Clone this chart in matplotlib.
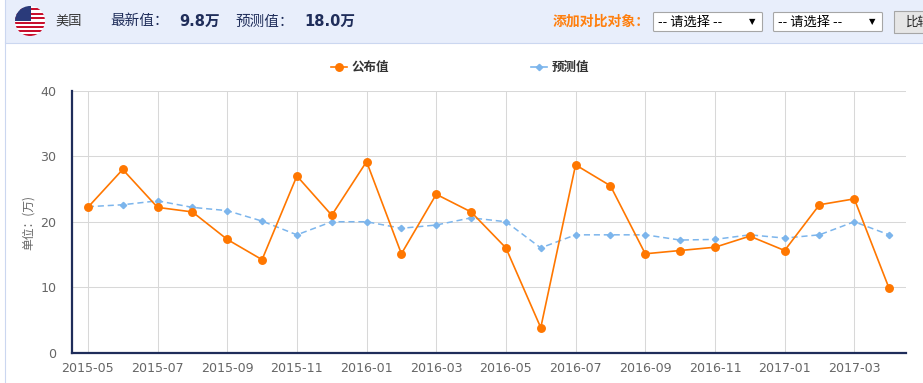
import matplotlib
matplotlib.use("Agg")
import matplotlib.pyplot as plt
from matplotlib.patches import Rectangle, Circle, FancyBboxPatch

plt.rcParams["font.family"] = ["Noto Sans CJK SC", "DejaVu Sans"]
latin_first = ["DejaVu Sans", "Noto Sans CJK SC"]

months = ["2015-05", "2015-06", "2015-07", "2015-08", "2015-09", "2015-10", "2015-11", "2015-12",
          "2016-01", "2016-02", "2016-03", "2016-04", "2016-05", "2016-06", "2016-07", "2016-08",
          "2016-09", "2016-10", "2016-11", "2016-12", "2017-01", "2017-02", "2017-03", "2017-04"]
published = [22.2, 28.0, 22.2, 21.5, 17.3, 14.2, 27.0, 21.0, 29.2, 15.1, 24.2, 21.5,
             16.0, 3.8, 28.7, 25.5, 15.1, 15.6, 16.1, 17.8, 15.6, 22.6, 23.5, 9.8]
forecast = [22.3, 22.6, 23.2, 22.2, 21.7, 20.1, 18.0, 20.0, 20.0, 19.0, 19.5, 20.6,
            20.0, 16.0, 18.0, 18.0, 18.0, 17.2, 17.3, 18.0, 17.5, 18.0, 20.0, 18.0]
y_ticks = [0, 10, 20, 30, 40]

W, H = 923, 383
fig = plt.figure(figsize=(W / 100, H / 100), dpi=100)

# page furniture, in pixel coordinates
bg = fig.add_axes([0, 0, 1, 1])
bg.set_xlim(0, W)
bg.set_ylim(H, 0)
bg.axis("off")
bg.add_patch(Rectangle((4.5, -2), W, 44.5, fc="#E8EEFB", ec="#CBD7F0", lw=0.8))
bg.plot([4.5, 4.5], [42, H], color="#CBD7F0", lw=0.8)

# flag
clip = Circle((30, 21), 15, transform=bg.transData)
bg.add_patch(Rectangle((15, 6), 30, 30, fc="white", ec="none", clip_path=clip))
for stripe_top in [8, 12.5, 17, 21.5, 25.5, 30, 34]:
    bg.add_patch(Rectangle((15, stripe_top), 30, 2.2, fc="#C8102E", ec="none", clip_path=clip))
bg.add_patch(Rectangle((15, 6), 16, 15, fc="#2A3A7A", ec="none", clip_path=clip))

bg.text(55, 21.5, "美国", fontsize=9.5, color="#333333", va="center")
bg.text(110, 21.5, "最新值：", fontsize=10.5, color="#1F2D5A", va="center")
bg.text(179, 21.5, "9.8万", fontsize=10.5, color="#1F2D5A", va="center", fontweight="bold", family=latin_first)
bg.text(235, 21.5, "预测值：", fontsize=10.5, color="#1F2D5A", va="center")
bg.text(304, 21.5, "18.0万", fontsize=10.5, color="#1F2D5A", va="center", fontweight="bold", family=latin_first)
bg.text(553, 21.5, "添加对比对象：", fontsize=10, color="#FF7F0E", va="center", fontweight="bold")

for x0 in [653.5, 773.5]:
    bg.add_patch(FancyBboxPatch((x0, 12.5), 109, 19, boxstyle="round,pad=0,rounding_size=1",
                                fc="white", ec="#A6A6A6", lw=0.8))
    bg.text(x0 + 5, 22, "-- 请选择 --", fontsize=9.5, color="black", va="center")
    bg.text(x0 + 99, 21.5, "▼", fontsize=6, color="black", va="center", ha="center",
            family=["DejaVu Sans"])
bg.add_patch(Rectangle((893.5, 10.5), 40, 22, fc="#E6E6E6", ec="#A6A6A6", lw=0.8))
bg.text(906, 22, "比较", fontsize=9, color="#222222", va="center", clip_on=True)

# chart, placed to the pixel box of the reference
left, right, top, bottom = 71.5, 905.5, 91, 352.5
ax = fig.add_axes([left / W, 1 - bottom / H, (right - left) / W, (bottom - top) / H])
ax.patch.set_alpha(0)
xs = list(range(len(months)))
ax.plot(xs, forecast, color="#7CB5EC", lw=1.1, ls=(0, (4, 2.5)), marker="D", ms=3.2,
        mec="#7CB5EC", mfc="#7CB5EC", clip_on=False, zorder=3, label="预测值")
ax.plot(xs, published, color="#FF7700", lw=1.2, marker="o", ms=5.4,
        mec="#FF7700", mfc="#FF7700", clip_on=False, zorder=4, label="公布值")

ax.set_xlim(-0.47, len(months) - 0.53)
ax.set_ylim(0, 40)
ax.set_yticks(y_ticks)
ax.set_xticks(xs[::2])
ax.set_xticklabels(months[::2], family=["DejaVu Sans"])
ax.grid(True, color="#D8D8D8", lw=0.75)
ax.set_axisbelow(True)
ax.tick_params(length=0, labelsize=9.1, labelcolor="#666666")
ax.tick_params(axis="x", pad=7)
ax.tick_params(axis="y", pad=11)
for label in ax.get_yticklabels():
    label.set_family(["DejaVu Sans"])
for side in ["top", "right"]:
    ax.spines[side].set_visible(False)
for side in ["left", "bottom"]:
    ax.spines[side].set_color("#1F2D5A")
    ax.spines[side].set_linewidth(1.6)

bg.text(28.5, 222, "单位：(万)", fontsize=8.5, color="#666666", rotation=90, va="center", ha="center")

# legend drawn by hand to sit at the exact header spots
bg.plot([331, 347], [67, 67], color="#FF7700", lw=1.2)
bg.plot([339], [67], marker="o", ms=5.4, color="#FF7700")
bg.text(352, 67, "公布值", fontsize=9, color="#333333", va="center", fontweight="bold")
bg.plot([531, 547], [67, 67], color="#7CB5EC", lw=1.2)
bg.plot([539], [67], marker="D", ms=3.2, color="#7CB5EC")
bg.text(552, 67, "预测值", fontsize=9, color="#333333", va="center", fontweight="bold")

fig.savefig("out.png", dpi=100)
